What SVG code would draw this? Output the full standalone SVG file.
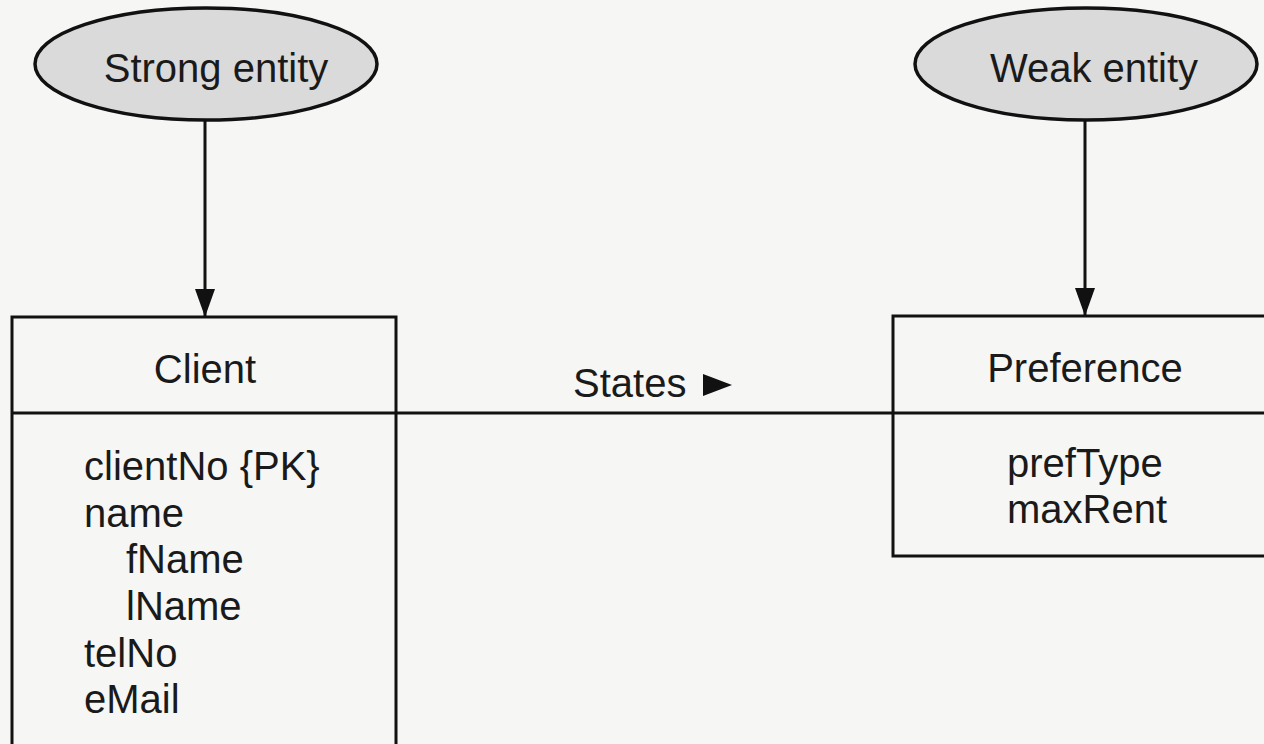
<svg xmlns="http://www.w3.org/2000/svg" width="1264" height="744" viewBox="0 0 1264 744">
  <style>
    text { font-family: "Liberation Sans", Arial, sans-serif; font-size: 40px; fill: #1a1a1a; }
    .mid { text-anchor: middle; }
    .oval { fill: #dadada; stroke: #111; stroke-width: 3.5; }
    .box { fill: none; stroke: #111; stroke-width: 3; }
    .wire { stroke: #111; stroke-width: 3; fill: none; }
  </style>
  <defs>
    <marker id="tip" viewBox="0 0 28 20" refX="28" refY="10" markerWidth="28" markerHeight="20" markerUnits="userSpaceOnUse" orient="auto">
      <path d="M0,0 L28,10 L0,20 Z" fill="#111"/>
    </marker>
  </defs>

  <rect x="0" y="0" width="1264" height="744" fill="#f6f6f4"/>

  <!-- connectors -->
  <g id="connectors">
    <line class="wire" x1="205" y1="120" x2="205" y2="317" marker-end="url(#tip)"/>
    <line class="wire" x1="1085" y1="120" x2="1085" y2="316" marker-end="url(#tip)"/>
    <line class="wire" x1="396" y1="413" x2="893" y2="413"/>
    <text x="573" y="397">States</text>
    <path d="M703,374 L732,385 L703,396 Z" fill="#111"/>
  </g>

  <!-- label ovals -->
  <g id="strong-entity">
    <ellipse class="oval" cx="206" cy="64" rx="171" ry="56"/>
    <text class="mid" x="216" y="82">Strong entity</text>
  </g>
  <g id="weak-entity">
    <ellipse class="oval" cx="1086" cy="64" rx="171" ry="56"/>
    <text class="mid" x="1094" y="82">Weak entity</text>
  </g>

  <!-- entity Client -->
  <g id="client">
    <rect class="box" x="12" y="317" width="384" height="440"/>
    <line class="box" x1="12" y1="413" x2="396" y2="413"/>
    <text class="mid" x="205" y="383">Client</text>
    <text x="84" y="480">clientNo {PK}</text>
    <text x="84" y="527">name</text>
    <text x="126" y="573">fName</text>
    <text x="126" y="620">lName</text>
    <text x="84" y="667">telNo</text>
    <text x="84" y="713">eMail</text>
  </g>

  <!-- entity Preference -->
  <g id="preference">
    <rect class="box" x="893" y="316" width="390" height="240"/>
    <line class="box" x1="893" y1="413" x2="1264" y2="413"/>
    <text class="mid" x="1085" y="382">Preference</text>
    <text x="1007" y="477">prefType</text>
    <text x="1007" y="523">maxRent</text>
  </g>
</svg>
